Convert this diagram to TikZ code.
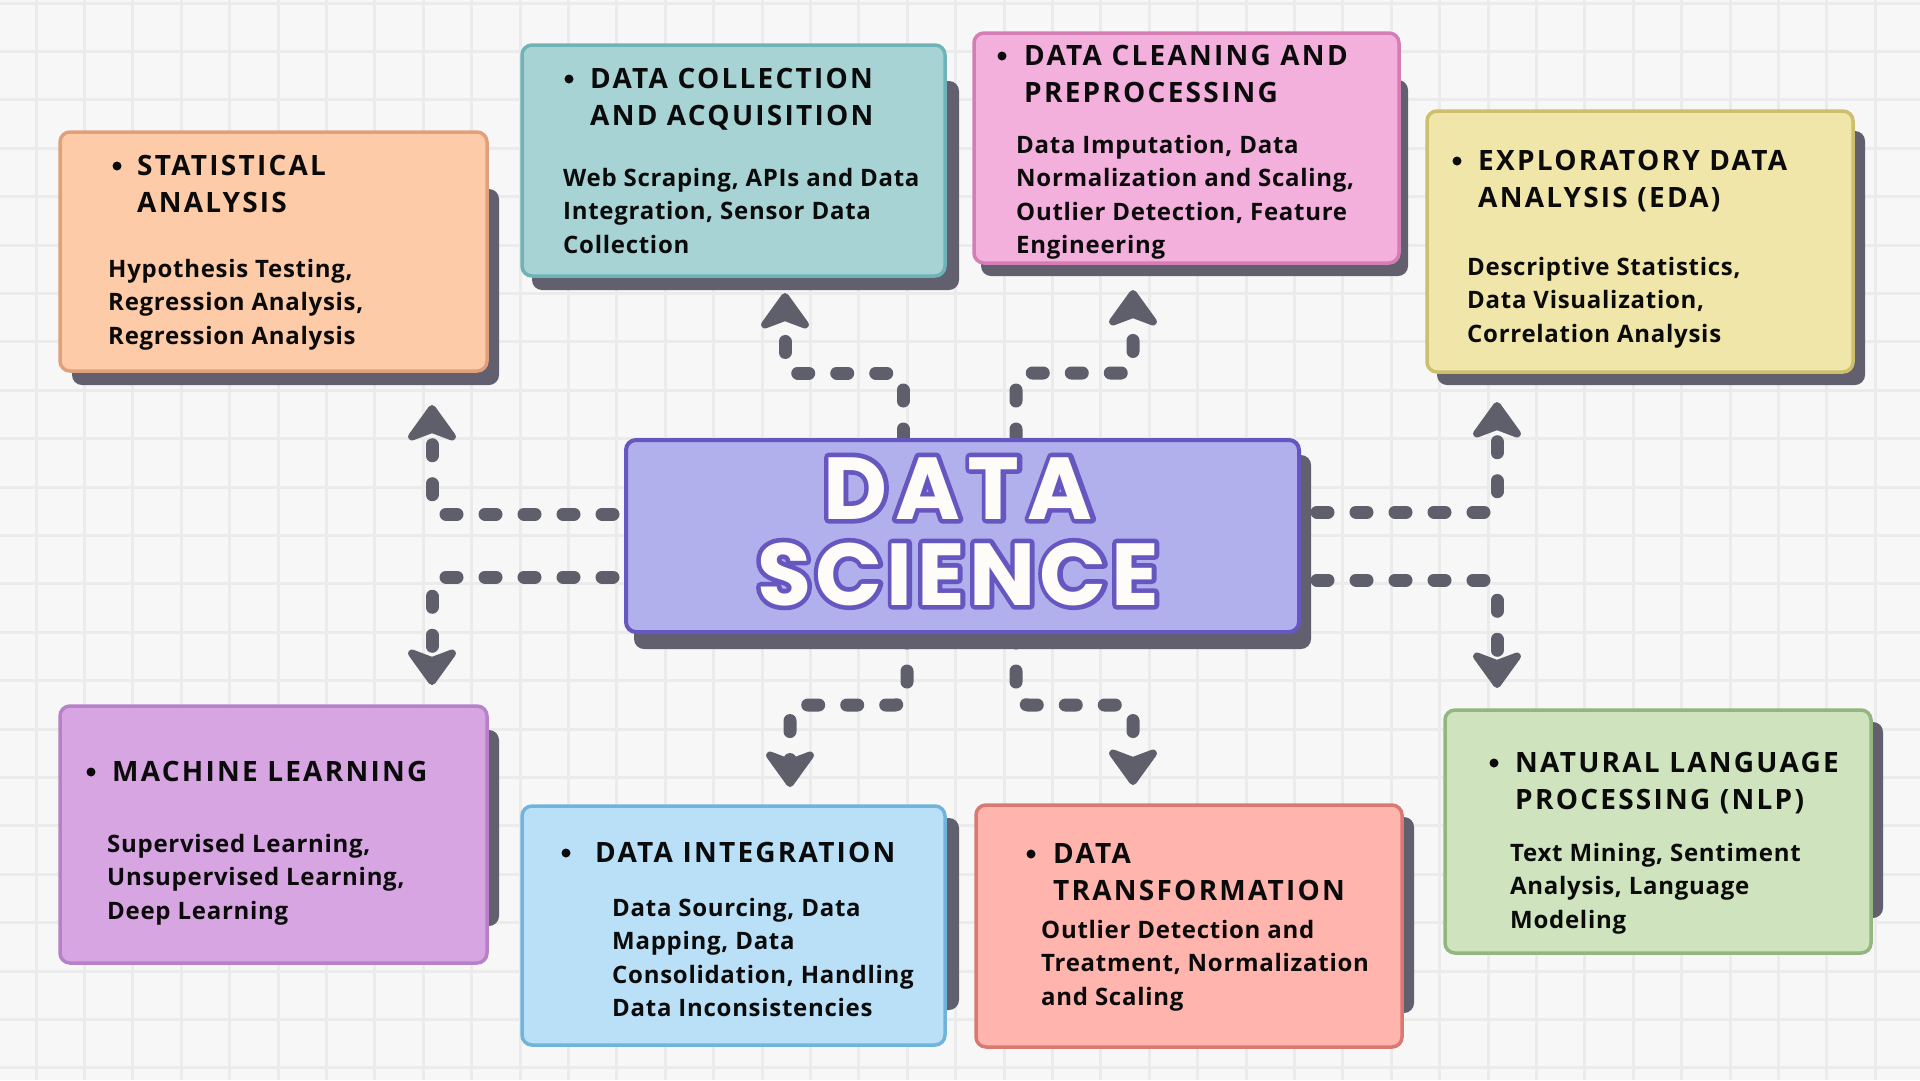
\documentclass[tikz,border=0pt]{standalone}
\usepackage{fontspec}
\usetikzlibrary{arrows.meta}
\setmainfont{Open Sans}
\newfontfamily\headfam{Open Sans}[LetterSpace=8]
\newfontfamily\bodyfam{Open Sans}[LetterSpace=3]
\newfontfamily\titlefam{Poppins}[LetterSpace=5]
% the same face, stroked wide to make the rim round the title letters
\newfontfamily\titlerim{Poppins}[LetterSpace=5, BoldFeatures={FakeBold=10.5}]

\definecolor{bg}{HTML}{F7F7F7}
\definecolor{gridc}{HTML}{EBEBEB}
\definecolor{shadowc}{HTML}{62606E}
\definecolor{ink}{HTML}{0B0B0B}
\definecolor{arrowc}{HTML}{5F5E6B}
\definecolor{dsline}{HTML}{6656C0}
\definecolor{titlefill}{HTML}{FDFCF8}

\definecolor{statF}{HTML}{FECBA9}\definecolor{statB}{HTML}{E0A07C}
\definecolor{collF}{HTML}{A8D3D5}\definecolor{collB}{HTML}{6DB3B8}
\definecolor{cleanF}{HTML}{F3B0DC}\definecolor{cleanB}{HTML}{D57DB5}
\definecolor{edaF}{HTML}{F0E6AA}\definecolor{edaB}{HTML}{CDBF6B}
\definecolor{coreF}{HTML}{B1AFEC}
\definecolor{mlF}{HTML}{D6A5E2}\definecolor{mlB}{HTML}{B681C8}
\definecolor{integF}{HTML}{BAE0F7}\definecolor{integB}{HTML}{70B4DC}
\definecolor{transF}{HTML}{FFB4AE}\definecolor{transB}{HTML}{D87A72}
\definecolor{nlpF}{HTML}{CFE4BE}\definecolor{nlpB}{HTML}{92B67E}

% white letters over a stroked purple copy
\newcommand\outlinetext[2][0]{%
  \leavevmode
  \rlap{\special{pdf:code 1 j 1 J}{\titlerim\bfseries\addfontfeatures{LetterSpace=#1}\color{dsline}#2}}%
  {\addfontfeatures{LetterSpace=#1}\textcolor{titlefill}{#2}}}

% left-aligned lines whose baseline is the first line
\newcommand\stack[1]{\begin{tabular}[t]{@{}l@{}}#1\end{tabular}}

\pgfdeclarelayer{back}
\pgfsetlayers{back,main}

\begin{document}
\begin{tikzpicture}[x=1pt,y=-1pt,
  panel/.style={rounded corners=10pt, line width=3.5pt, inner sep=0pt, outer sep=0pt},
  shade/.style={fill=shadowc, rounded corners=10pt},
  headtxt/.style={anchor=base west, inner sep=0pt, text=ink,
    font=\headfam\bfseries\fontsize{28}{37}\selectfont},
  bodytxt/.style={anchor=base west, inner sep=0pt, text=ink,
    font=\bodyfam\bfseries\fontsize{24}{33.5}\selectfont},
  titletxt/.style={anchor=base, inner sep=0pt,
    font=\titlefam\bfseries\fontsize{88}{88}\selectfont},
  dot/.style={fill=ink},
  flow/.style={draw=arrowc, line width=13pt, line cap=round,
    dash pattern=on 11pt off 28pt, rounded corners=12pt,
    -{Stealth[length=42pt,width=60pt,inset=11pt,round]}}]

\useasboundingbox (0,0) rectangle (1920,1080);

\begin{pgfonlayer}{back}
  \fill[bg] (0,0) rectangle (1920,1080);
  \foreach \i in {0,...,39} \draw[gridc, line width=3pt] ({36+48.4*\i},0) -- ++(0,1080);
  \foreach \j in {0,...,22} \draw[gridc, line width=3pt] (0,{3+48.4*\j}) -- ++(1920,0);
\end{pgfonlayer}

% shadows
\fill[shade] (72,189) rectangle (499,385);
\fill[shade] (532,81) rectangle (959,290);
\fill[shade] (981,80) rectangle (1408,276);
\fill[shade] (1437,131) rectangle (1865,385);
\fill[shade] (634,455) rectangle (1311,649);
\fill[shade] (70,730) rectangle (499,926);
\fill[shade] (532,818) rectangle (959,1010);
\fill[shade] (986,817) rectangle (1414,1013);
\fill[shade] (1455,722) rectangle (1883,918);

% panels
\node[panel, fill=statF, draw=statB, minimum width=427pt, minimum height=239pt] (stat) at (273.5,251.5) {};
\node[panel, fill=collF, draw=collB, minimum width=423pt, minimum height=231pt] (coll) at (733.5,160.5) {};
\node[panel, fill=cleanF, draw=cleanB, minimum width=425pt, minimum height=230pt] (clean) at (1186.5,148) {};
\node[panel, fill=edaF, draw=edaB, minimum width=426pt, minimum height=261pt] (eda) at (1640,241.5) {};
\node[panel, fill=coreF, draw=dsline, line width=4pt, minimum width=673pt, minimum height=192pt] (cbox) at (962.5,536) {};
\node[panel, fill=mlF, draw=mlB, minimum width=427pt, minimum height=257pt] (ml) at (273.5,834.5) {};
\node[panel, fill=integF, draw=integB, minimum width=423pt, minimum height=239pt] (integ) at (733.5,925.5) {};
\node[panel, fill=transF, draw=transB, minimum width=426pt, minimum height=242pt] (trans) at (1189,926) {};
\node[panel, fill=nlpF, draw=nlpB, minimum width=426pt, minimum height=243pt] (nlp) at (1658,831.5) {};

% title
\node[titletxt] (title1) at (958,519) {\outlinetext[9]{DATA}};
\node[titletxt] (title2) at (958,605) {\outlinetext[5]{SCIENCE}};

% statistical analysis
\fill[dot] (117,166) circle (4.5);
\node[headtxt] (stat-h) at (137,175) {\stack{STATISTICAL\\ANALYSIS}};
\node[bodytxt] (stat-b) at (108,277) {\stack{Hypothesis Testing,\\Regression Analysis,\\Regression Analysis}};

% data collection
\fill[dot] (569,79) circle (4.5);
\node[headtxt] (coll-h) at (590,88) {\stack{DATA COLLECTION\\AND ACQUISITION}};
\node[bodytxt] (coll-b) at (563,186) {\stack{Web Scraping, APIs and Data\\Integration, Sensor Data\\Collection}};

% data cleaning
\fill[dot] (1002,56) circle (4.5);
\node[headtxt] (clean-h) at (1024,65) {\stack{DATA CLEANING AND\\PREPROCESSING}};
\node[bodytxt] (clean-b) at (1016,153) {\stack{Data Imputation, Data\\Normalization and Scaling,\\Outlier Detection, Feature\\Engineering}};

% exploratory data analysis
\fill[dot] (1457,161) circle (4.5);
\node[headtxt] (eda-h) at (1478,170) {\stack{EXPLORATORY DATA\\ANALYSIS (EDA)}};
\node[bodytxt] (eda-b) at (1467,275) {\stack{Descriptive Statistics,\\Data Visualization,\\Correlation Analysis}};

% machine learning
\fill[dot] (91,772) circle (4.5);
\node[headtxt] (ml-h) at (112,781) {MACHINE LEARNING};
\node[bodytxt] (ml-b) at (107,852) {\stack{Supervised Learning,\\Unsupervised Learning,\\Deep Learning}};

% data integration
\fill[dot] (566,853) circle (4.5);
\node[headtxt] (integ-h) at (595,862) {DATA INTEGRATION};
\node[bodytxt] (integ-b) at (612,916) {\stack{Data Sourcing, Data\\Mapping, Data\\Consolidation, Handling\\Data Inconsistencies}};

% data transformation
\fill[dot] (1031,854) circle (4.5);
\node[headtxt] (trans-h) at (1053,863) {\stack{DATA\\TRANSFORMATION}};
\node[bodytxt] (trans-b) at (1041,938) {\stack{Outlier Detection and\\Treatment, Normalization\\and Scaling}};

% natural language processing
\fill[dot] (1494,763) circle (4.5);
\node[headtxt] (nlp-h) at (1515,772) {\stack{NATURAL LANGUAGE\\PROCESSING (NLP)}};
\node[bodytxt] (nlp-b) at (1510,861) {\stack{Text Mining, Sentiment\\Analysis, Language\\Modeling}};

% connectors from the core box
\begin{pgfonlayer}{back}
  \draw[flow, shorten <=13pt, shorten >=34pt] (cbox.west |- 0,514) -| (stat.south -| 432,0);
  \draw[flow, shorten <=13pt, shorten >=21pt] (cbox.west |- 0,577) -| (ml.north -| 432,0);
  \draw[flow, shorten <=18pt, shorten >=30pt] (cbox.east |- 0,512) -| (eda.south -| 1497,0);
  \draw[flow, shorten <=18pt, shorten >=22pt] (cbox.east |- 0,580) -| (nlp.north -| 1497,0);
  \draw[flow, shorten >=17pt] (cbox.north -| 903,0) -- (903,373) -- (785,373) -- (coll.south -| 785,0);
  \draw[flow, shorten >=27pt] (cbox.north -| 1016,0) -- (1016,373) -- (1133,373) -- (clean.south -| 1133,0);
  \draw[flow, shorten >=19pt] (cbox.south -| 907,0) -- (907,705) -- (790,705) -- (integ.north -| 790,0);
  \draw[flow, shorten >=20pt] (cbox.south -| 1016,0) -- (1016,705) -- (1133,705) -- (trans.north -| 1133,0);
\end{pgfonlayer}
\end{tikzpicture}
\end{document}
